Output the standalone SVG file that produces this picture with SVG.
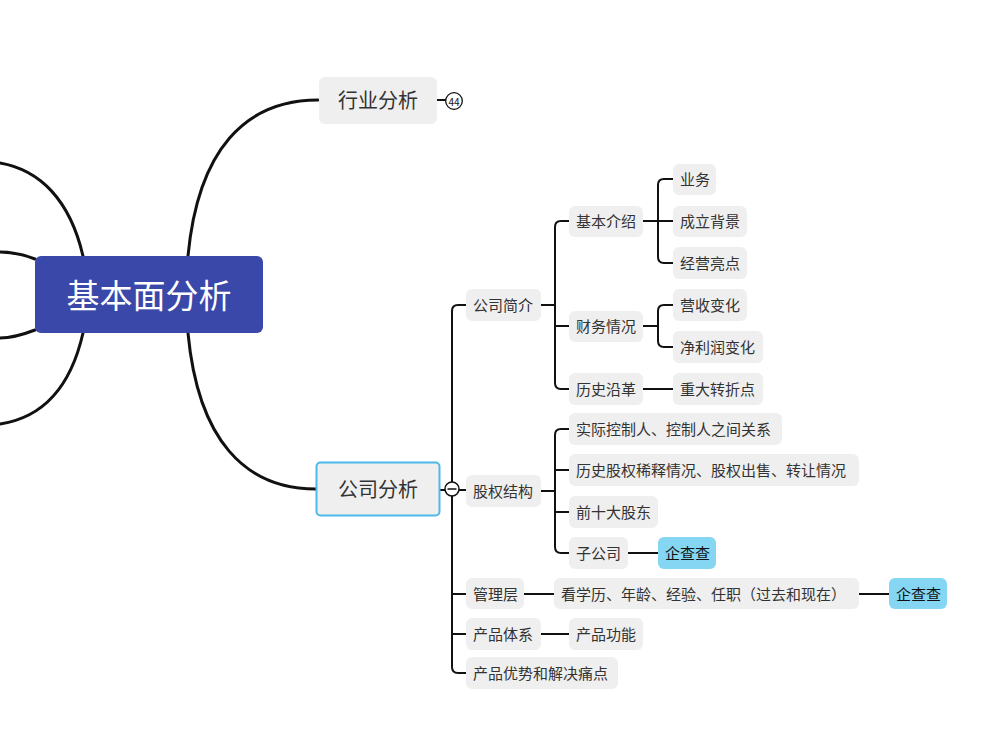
<svg xmlns="http://www.w3.org/2000/svg" width="982" height="730" viewBox="0 0 982 730">
<style>
text{font-family:"Noto Sans CJK SC","Noto Sans",sans-serif;fill:#333;dominant-baseline:central}
.b{fill:#efefef}
.q{fill:#84d6f3}
.t{font-size:15px}
.c1{fill:none;stroke:#111;stroke-width:3;stroke-linecap:round}
.c2{fill:none;stroke:#111;stroke-width:2}
</style>
<rect width="982" height="730" fill="#fff"/>
<g id="connectors">
<path class="c1" d="M83,256 C70,200 40,170 0,163"/>
<path class="c1" d="M35,259 C22,254 12,252 0,252"/>
<path class="c1" d="M35,330 C22,335 12,338 0,338"/>
<path class="c1" d="M83,333 C70,390 40,418 0,424"/>
<path class="c1" d="M188,256 C198,150 245,100 318,100"/>
<path class="c1" d="M188,333 C198,440 245,489 316,489"/>
<path class="c2" d="M437,100 H446"/>
<path class="c2" d="M440,490 H466"/>
<path class="c2" d="M466,305 H458 Q452,305 452,311 V667 Q452,673 458,673 H466"/>
<path class="c2" d="M452,594 H466 M452,634 H466"/>
<path class="c2" d="M541,305 H555 M569,221 H561 Q555,221 555,227 V383 Q555,389 561,389 H569 M555,326 H569"/>
<path class="c2" d="M643,221 H673 M673,179 H664 Q658,179 658,185 V257 Q658,263 664,263 H673"/>
<path class="c2" d="M643,326 H658 M673,305 H664 Q658,305 658,311 V341 Q658,347 664,347 H673"/>
<path class="c2" d="M643,389 H673"/>
<path class="c2" d="M541,491 H555 M569,429 H561 Q555,429 555,435 V547 Q555,553 561,553 H569 M555,470 H569 M555,512 H569"/>
<path class="c2" d="M628,553 H658"/>
<path class="c2" d="M524,594 H554 M859,594 H889"/>
<path class="c2" d="M541,634 H569"/>
</g>
<g id="root">
<rect x="35" y="256" width="228" height="77" rx="6" fill="#3a48a9"/>
<text x="149" y="294" font-size="33" text-anchor="middle" style="fill:#fff">基本面分析</text>
</g>
<g id="n-hangye">
<rect class="b" x="319" y="77" width="118" height="47" rx="6"/>
<text x="378" y="99.5" font-size="20" text-anchor="middle">行业分析</text>
<circle cx="454" cy="101" r="8.3" fill="#fff" stroke="#111" stroke-width="1.3"/>
<text x="454" y="101.5" font-size="10" text-anchor="middle" style="fill:#111">44</text>
</g>
<g id="n-gongsi">
<rect class="b" x="316.5" y="462.5" width="123" height="53" rx="4" stroke="#4cb9e8" stroke-width="2"/>
<text x="378" y="488.5" font-size="20" text-anchor="middle">公司分析</text>
<circle cx="452" cy="489" r="7" fill="#fff" stroke="#111" stroke-width="1.5"/>
<path d="M447.5,489 H456.5" stroke="#111" stroke-width="1.5"/>
</g>
<g id="n-jianjie"><rect class="b" x="466" y="289" width="75" height="32" rx="6"/><text class="t" x="473" y="304.5">公司简介</text></g>
<g id="n-jiben"><rect class="b" x="569" y="206" width="74" height="31" rx="6"/><text class="t" x="576" y="220.5">基本介绍</text></g>
<g id="n-yewu"><rect class="b" x="673" y="164" width="43" height="31" rx="6"/><text class="t" x="680" y="178.5">业务</text></g>
<g id="n-chengli"><rect class="b" x="673" y="206" width="74" height="31" rx="6"/><text class="t" x="680" y="220.5">成立背景</text></g>
<g id="n-jingying"><rect class="b" x="673" y="247" width="74" height="32" rx="6"/><text class="t" x="680" y="262.5">经营亮点</text></g>
<g id="n-caiwu"><rect class="b" x="569" y="311" width="74" height="31" rx="6"/><text class="t" x="576" y="325.5">财务情况</text></g>
<g id="n-yingshou"><rect class="b" x="673" y="289" width="74" height="32" rx="6"/><text class="t" x="680" y="304.5">营收变化</text></g>
<g id="n-jinglirun"><rect class="b" x="673" y="331" width="90" height="32" rx="6"/><text class="t" x="680" y="346.5">净利润变化</text></g>
<g id="n-lishi"><rect class="b" x="569" y="373" width="74" height="32" rx="6"/><text class="t" x="576" y="388.5">历史沿革</text></g>
<g id="n-zhuanzhe"><rect class="b" x="673" y="373" width="90" height="32" rx="6"/><text class="t" x="680" y="388.5">重大转折点</text></g>
<g id="n-guquan"><rect class="b" x="466" y="475" width="75" height="32" rx="6"/><text class="t" x="473" y="490.5">股权结构</text></g>
<g id="n-shiji"><rect class="b" x="569" y="413" width="213" height="32" rx="6"/><text class="t" x="576" y="428.5">实际控制人、控制人之间关系</text></g>
<g id="n-xishi"><rect class="b" x="569" y="454" width="290" height="32" rx="6"/><text class="t" x="576" y="469.5">历史股权稀释情况、股权出售、转让情况</text></g>
<g id="n-qianshi"><rect class="b" x="569" y="496" width="89" height="32" rx="6"/><text class="t" x="576" y="511.5">前十大股东</text></g>
<g id="n-zigongsi"><rect class="b" x="569" y="537" width="59" height="32" rx="6"/><text class="t" x="576" y="552.5">子公司</text></g>
<g id="n-qcc1"><rect class="q" x="658" y="537" width="58" height="32" rx="6"/><text class="t" x="665" y="552.5" style="fill:#111">企查查</text></g>
<g id="n-guanli"><rect class="b" x="466" y="578" width="58" height="31" rx="6"/><text class="t" x="473" y="593.5">管理层</text></g>
<g id="n-kanxueli"><rect class="b" x="554" y="578" width="305" height="31" rx="6"/><text class="t" x="561" y="593.5">看学历、年龄、经验、任职（过去和现在）</text></g>
<g id="n-qcc2"><rect class="q" x="889" y="578" width="58" height="31" rx="6"/><text class="t" x="896" y="593.5" style="fill:#111">企查查</text></g>
<g id="n-chanpin"><rect class="b" x="466" y="618" width="75" height="32" rx="6"/><text class="t" x="473" y="633.5">产品体系</text></g>
<g id="n-gongneng"><rect class="b" x="569" y="618" width="74" height="32" rx="6"/><text class="t" x="576" y="633.5">产品功能</text></g>
<g id="n-youshi"><rect class="b" x="466" y="657" width="152" height="32" rx="6"/><text class="t" x="473" y="672.5">产品优势和解决痛点</text></g>
</svg>
